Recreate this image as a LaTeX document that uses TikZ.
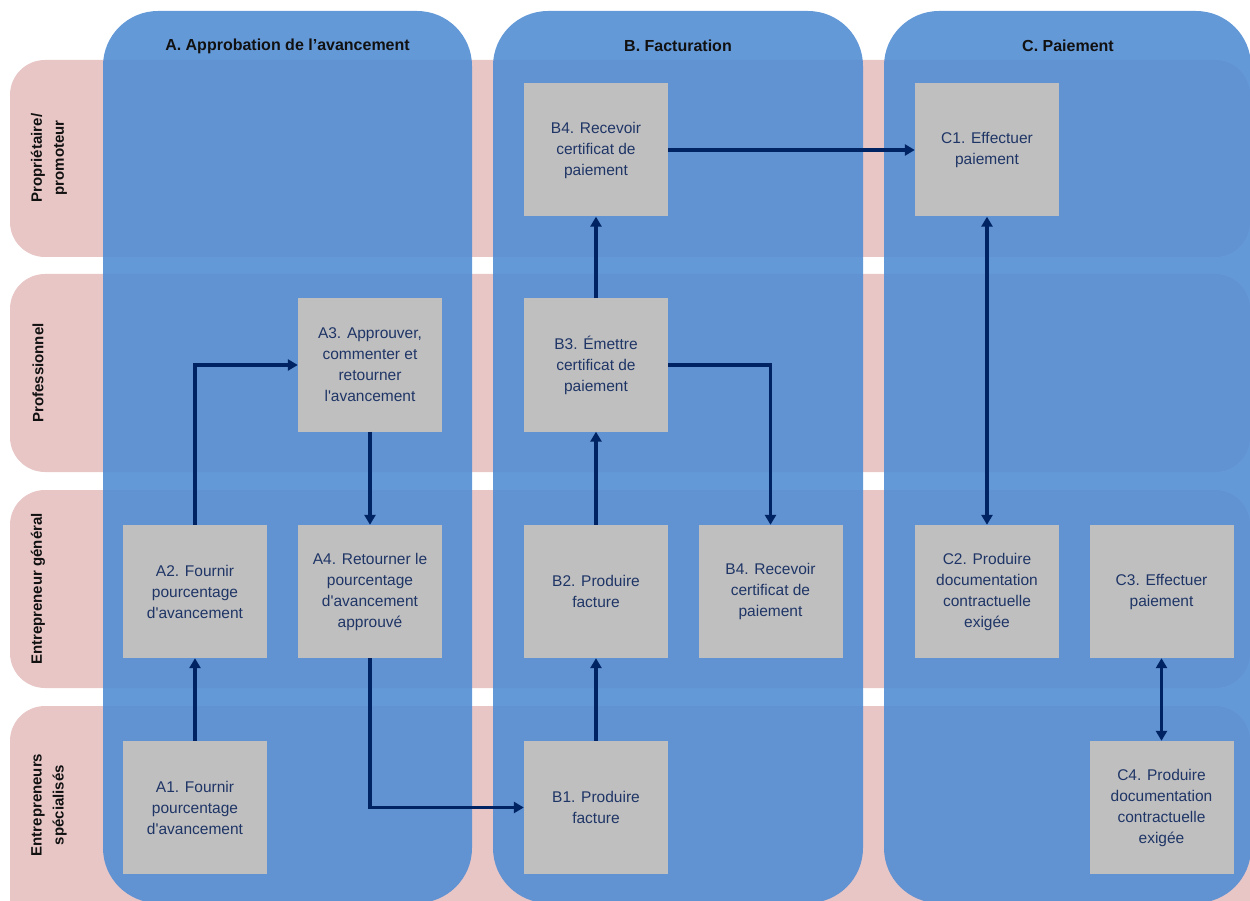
\documentclass[tikz,border=0pt]{standalone}
\usepackage{fontspec}
\setmainfont{Liberation Sans}
\newfontfamily\boxfont{Liberation Sans}
\usetikzlibrary{arrows.meta}
\definecolor{pinkrow}{HTML}{E8C6C6}
\definecolor{bluecol}{HTML}{4F8BD3}
\definecolor{boxgray}{HTML}{BFBFBF}
\definecolor{navy}{HTML}{002463}
\definecolor{boxtext}{HTML}{1F3566}
\definecolor{headtext}{HTML}{111111}
\begin{document}
\begin{tikzpicture}[x=1pt,y=-1pt,
  rowband/.style={fill=pinkrow, rounded corners=35pt},
  colband/.style={fill=bluecol, fill opacity=0.88, rounded corners=55pt},
  stepbox/.style={fill=boxgray, minimum width=144pt, minimum height=133pt, inner sep=2pt,
     align=center, text=boxtext, font=\boxfont\fontsize{15.5pt}{21pt}\selectfont},
  header/.style={text=headtext, font=\bfseries\fontsize{16pt}{19pt}\selectfont},
  rowlab/.style={rotate=90, align=center, text=headtext, font=\bfseries\fontsize{15pt}{22pt}\selectfont},
  arr/.style={draw=navy, line width=3.2pt, -{Triangle[length=10pt,width=11pt]}},
  arrtwo/.style={draw=navy, line width=3.2pt, {Triangle[length=10pt,width=11pt]}-{Triangle[length=10pt,width=11pt]}}
]
\useasboundingbox (0,0) rectangle (1250,901);
\clip (0,0) rectangle (1250,901);
% rows
\fill[rowband] (10,60) rectangle (1250,257);
\fill[rowband] (10,274) rectangle (1250,472);
\fill[rowband] (10,490) rectangle (1250,688);
\fill[rowband] (10,706) rectangle (1250,940);
% columns
\fill[colband] (103,11) rectangle (472,903);
\fill[colband] (493,11) rectangle (863,903);
\fill[colband] (884,11) rectangle (1251,903);
% headers
\node[header] (hA) at (287.5,46) {A. Approbation de l’avancement};
\node[header] (hB) at (678,46) {B. Facturation};
\node[header] (hC) at (1068,46) {C. Paiement};
% row labels
\node[rowlab] (r1) at (49,158) {Propriétaire/\\promoteur};
\node[rowlab] (r2) at (38,373) {Professionnel};
\node[rowlab] (r3) at (38,589) {Entrepreneur général};
\node[rowlab] (r4) at (49,805) {Entrepreneurs\\spécialisés};
% boxes
\node[stepbox] (A1) at (195,807.5) {A1. Fournir\\pourcentage\\d'avancement};
\node[stepbox] (A2) at (195,591.5) {A2. Fournir\\pourcentage\\d'avancement};
\node[stepbox] (A3) at (370,365) {A3. Approuver,\\commenter et\\retourner\\l'avancement};
\node[stepbox] (A4) at (370,591.5) {A4. Retourner le\\pourcentage\\d'avancement\\approuvé};
\node[stepbox] (B4t) at (596,150) {B4. Recevoir\\certificat de\\paiement};
\node[stepbox] (B3) at (596,365) {B3. Émettre\\certificat de\\paiement};
\node[stepbox] (B2) at (596,591.5) {B2. Produire\\facture};
\node[stepbox] (B1) at (596,807.5) {B1. Produire\\facture};
\node[stepbox] (B4r) at (770.5,591.5) {B4. Recevoir\\certificat de\\paiement};
\node[stepbox] (C1) at (987,150) {C1. Effectuer\\paiement};
\node[stepbox] (C2) at (987,591.5) {C2. Produire\\documentation\\contractuelle\\exigée};
\node[stepbox] (C3) at (1161.5,591.5) {C3. Effectuer\\paiement};
\node[stepbox] (C4) at (1161.5,807.5) {C4. Produire\\documentation\\contractuelle\\exigée};
% connectors
\draw[arr] (A1.north) -- (A2.south);
\draw[arr] (A2.north) |- (A3.west);
\draw[arr] (A3.south) -- (A4.north);
\draw[arr] (A4.south) |- (B1.west);
\draw[arr] (B1.north) -- (B2.south);
\draw[arr] (B2.north) -- (B3.south);
\draw[arr] (B3.north) -- (B4t.south);
\draw[arr] (B3.east) -| (B4r.north);
\draw[arr] (B4t.east) -- (C1.west);
\draw[arrtwo] (C1.south) -- (C2.north);
\draw[arrtwo] (C3.south) -- (C4.north);
\end{tikzpicture}
\end{document}
